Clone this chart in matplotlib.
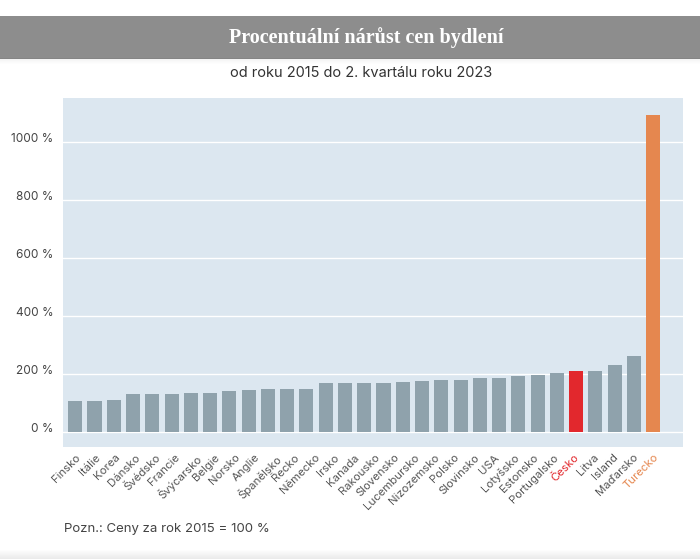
import numpy as np
import matplotlib
matplotlib.use("Agg")
import matplotlib.pyplot as plt
from matplotlib.patches import Rectangle

# =============================================================================
# DATA (the source shows 31 bars but only 30 labels)
# =============================================================================

VALUES = [107, 107, 110, 131, 133, 133, 135, 135, 142, 145, 147, 147, 150,
          168, 168, 168, 169, 173, 176, 178, 180, 185, 185, 193, 197, 203,
          210, 210, 231, 261, 1090]

COUNTRIES = ["Finsko", "Itálie", "Korea", "Dánsko", "Švédsko", "Francie",
             "Švýcarsko", "Belgie", "Norsko", "Anglie", "Španělsko", "Řecko",
             "Německo", "Irsko", "Kanada", "Rakousko", "Slovensko",
             "Lucembursko", "Nizozemsko", "Polsko", "Slovinsko", "USA",
             "Lotyšsko", "Estonsko", "Portugalsko", "Česko", "Litva",
             "Island", "Maďarsko", "Turecko"]

Y_TICKS = [0, 200, 400, 600, 800, 1000]
HIGHLIGHT_BAR = {26: "#e2282d", 30: "#e5874f"}
HIGHLIGHT_LABEL = {"Česko": "#e2282d", "Turecko": "#e5874f"}

# =============================================================================
# STYLE
# =============================================================================

plt.rcParams["font.family"] = ["Inter", "DejaVu Sans"]

BAR = "#8fa2ac"
PLOT_BG = "#dce7f0"
TEXT = "#444444"

fig = plt.figure(figsize=(7.0, 5.59), dpi=100)
fig.patch.set_facecolor("white")

# title band + shadow strips
fig.patches.append(Rectangle((0, 1 - 59 / 559), 1, 43 / 559, transform=fig.transFigure,
                             facecolor="#8d8d8d", edgecolor="none", zorder=0))
for i in range(6):
    fig.patches.append(Rectangle((0, 1 - (59 + i) / 559), 1, 1 / 559, transform=fig.transFigure,
                                 facecolor="#000000", alpha=0.05 * (6 - i) / 6,
                                 edgecolor="none", zorder=0))
for i in range(9):
    fig.patches.append(Rectangle((0, i / 559), 1, 1 / 559, transform=fig.transFigure,
                                 facecolor="#000000", alpha=0.08 * (9 - i) / 9,
                                 edgecolor="none", zorder=0))

fig.text(366 / 700, 1 - 38 / 559, "Procentuální nárůst cen bydlení",
         ha="center", va="center", color="white", fontsize=14.5,
         fontweight="bold", family=["Liberation Serif", "DejaVu Serif"])
fig.text(361 / 700, 1 - 73 / 559, "od roku 2015 do 2. kvartálu roku 2023",
         ha="center", va="center", color="#333333", fontsize=10.5)
fig.text(64 / 700, 1 - 529 / 559, "Pozn.: Ceny za rok 2015 = 100 %",
         ha="left", va="center", color="#444444", fontsize=9.5)

# =============================================================================
# CHART
# =============================================================================

ax = fig.add_axes([63.3 / 700, 112.3 / 559, 619.4 / 700, 348.4 / 559])
ax.set_facecolor(PLOT_BG)

x = np.arange(len(VALUES))
colors = [HIGHLIGHT_BAR.get(i, BAR) for i in range(len(VALUES))]
ax.bar(x, VALUES, width=0.73, color=colors, zorder=3)

ax.set_xlim(-0.62, 31.53)
ax.set_ylim(-50, 1149)

ax.set_yticks(Y_TICKS)
ax.set_yticklabels([f"{v} %" for v in Y_TICKS])
for lbl in ax.get_yticklabels():
    lbl.set_verticalalignment("baseline")
ax.tick_params(axis="y", length=0, pad=7, labelsize=8.5, labelcolor=TEXT)
ax.grid(axis="y", color="white", linewidth=1.0, zorder=1)

# labels spread evenly from first to last bar, as in the source
label_pos = np.linspace(0, len(VALUES) - 1, len(COUNTRIES))
ax.set_xticks(label_pos)
ax.set_xticklabels(COUNTRIES, rotation=45, ha="right", rotation_mode="anchor")
ax.tick_params(axis="x", length=0, pad=4, labelsize=8.2, labelcolor="#555555")
for lbl in ax.get_xticklabels():
    c = HIGHLIGHT_LABEL.get(lbl.get_text())
    if c:
        lbl.set_color(c)

for s in ax.spines.values():
    s.set_visible(False)

fig.savefig("out.png", dpi=100)
